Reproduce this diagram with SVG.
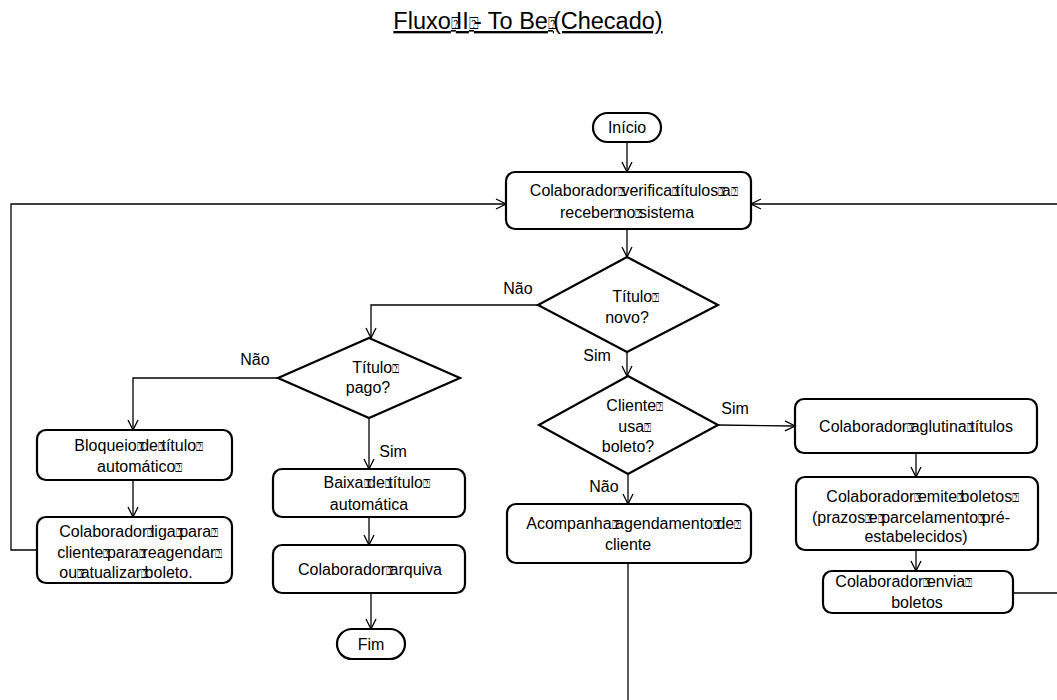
<svg xmlns="http://www.w3.org/2000/svg" width="1057" height="700" viewBox="0 0 1057 700">
  <defs>
    <marker id="arr" viewBox="0 0 12 12" refX="11" refY="6" markerWidth="12" markerHeight="12" markerUnits="userSpaceOnUse" orient="auto">
      <path d="M1,1 L11,6 L1,11" fill="none" stroke="#000" stroke-width="1.3"/>
    </marker>
  </defs>
  <style>
    .shape { fill: #fff; stroke: #000; stroke-width: 2.2; }
    .conn { fill: none; stroke: #000; stroke-width: 1.3; }
    .t { font-family: "Liberation Sans", Arial, sans-serif; font-size: 16px; fill: #000; text-anchor: middle; }
    .title { font-family: "Liberation Sans", Arial, sans-serif; font-size: 23.5px; fill: #000; text-anchor: middle; text-decoration: underline; }
    .q { font-family: "DejaVu Sans", sans-serif; font-size: 12px; letter-spacing: -3.5px; }
    .qt { font-family: "DejaVu Sans", sans-serif; font-size: 16px; letter-spacing: -5px; }
  </style>
  <rect width="1057" height="700" fill="#fff"/>

  <text class="title" x="528" y="29">Fluxo<tspan class="qt">⍰</tspan>II<tspan class="qt">⍰</tspan>- To Be<tspan class="qt">⍰</tspan>(Checado)</text>

  <g id="connectors">
    <path class="conn" d="M627,142 V172" marker-end="url(#arr)"/>
    <path class="conn" d="M627,229 V257" marker-end="url(#arr)"/>
    <path class="conn" d="M538,305 H371 V338" marker-end="url(#arr)"/>
    <path class="conn" d="M278,378 H133 V430" marker-end="url(#arr)"/>
    <path class="conn" d="M369,418 V469" marker-end="url(#arr)"/>
    <path class="conn" d="M133,480 V517" marker-end="url(#arr)"/>
    <path class="conn" d="M37,550 H11 V204 H506" marker-end="url(#arr)"/>
    <path class="conn" d="M369,517 V545" marker-end="url(#arr)"/>
    <path class="conn" d="M371,593 V629" marker-end="url(#arr)"/>
    <path class="conn" d="M627,352 V376" marker-end="url(#arr)"/>
    <path class="conn" d="M718,425 L795,426" marker-end="url(#arr)"/>
    <path class="conn" d="M628,474 V504" marker-end="url(#arr)"/>
    <path class="conn" d="M628,563 V700"/>
    <path class="conn" d="M916,453 V477" marker-end="url(#arr)"/>
    <path class="conn" d="M916,550 V571" marker-end="url(#arr)"/>
    <path class="conn" d="M1013,593 H1060 V204 H751" marker-end="url(#arr)"/>
    <text class="t" x="518" y="294">Não</text>
    <text class="t" x="255" y="365">Não</text>
    <text class="t" x="393" y="457">Sim</text>
    <text class="t" x="597" y="361">Sim</text>
    <text class="t" x="735" y="414">Sim</text>
    <text class="t" x="604" y="492">Não</text>
  </g>

  <g id="inicio">
    <rect class="shape" x="593" y="113" width="68" height="29" rx="14.5"/>
    <text class="t" x="627" y="133">Início</text>
  </g>

  <g id="verifica">
    <rect class="shape" x="506" y="172" width="245" height="57" rx="9"/>
    <text class="t" x="632" y="196">Colaborador<tspan class="q">⍰</tspan>verifica<tspan class="q">⍰</tspan>títulos<tspan class="q">⍰</tspan>a<tspan class="q">⍰</tspan></text>
    <text class="t" x="627" y="218">receber<tspan class="q">⍰</tspan>no<tspan class="q">⍰</tspan>sistema</text>
  </g>

  <g id="titulo-novo">
    <polygon class="shape" points="627,257 718,305 627,352 538,305"/>
    <text class="t" x="634" y="302">Título<tspan class="q">⍰</tspan></text>
    <text class="t" x="627" y="323">novo?</text>
  </g>

  <g id="titulo-pago">
    <polygon class="shape" points="369,338 460,378 369,418 278,378"/>
    <text class="t" x="374" y="373">Título<tspan class="q">⍰</tspan></text>
    <text class="t" x="368" y="393">pago?</text>
  </g>

  <g id="bloqueio">
    <rect class="shape" x="37" y="430" width="195" height="50" rx="9"/>
    <text class="t" x="137" y="451">Bloqueio<tspan class="q">⍰</tspan>de<tspan class="q">⍰</tspan>título<tspan class="q">⍰</tspan></text>
    <text class="t" x="138" y="472">automático<tspan class="q">⍰</tspan></text>
  </g>

  <g id="liga">
    <rect class="shape" x="37" y="517" width="195" height="66" rx="9"/>
    <text class="t" x="137" y="537">Colaborador<tspan class="q">⍰</tspan>liga<tspan class="q">⍰</tspan>para<tspan class="q">⍰</tspan></text>
    <text class="t" x="138" y="558">cliente<tspan class="q">⍰</tspan>para<tspan class="q">⍰</tspan>reagendar<tspan class="q">⍰</tspan></text>
    <text class="t" x="126" y="578">ou<tspan class="q">⍰</tspan>atualizar<tspan class="q">⍰</tspan>boleto.</text>
  </g>

  <g id="baixa">
    <rect class="shape" x="273" y="469" width="192" height="48" rx="9"/>
    <text class="t" x="375" y="488">Baixa<tspan class="q">⍰</tspan>de<tspan class="q">⍰</tspan>título<tspan class="q">⍰</tspan></text>
    <text class="t" x="369" y="510">automática</text>
  </g>

  <g id="arquiva">
    <rect class="shape" x="273" y="545" width="192" height="48" rx="9"/>
    <text class="t" x="370" y="575">Colaborador<tspan class="q">⍰</tspan>arquiva</text>
  </g>

  <g id="fim">
    <rect class="shape" x="337" y="629" width="68" height="30" rx="15"/>
    <text class="t" x="371" y="650">Fim</text>
  </g>

  <g id="usa-boleto">
    <polygon class="shape" points="628,376 718,425 628,474 539,425"/>
    <text class="t" x="633" y="411">Cliente<tspan class="q">⍰</tspan></text>
    <text class="t" x="633" y="432">usa<tspan class="q">⍰</tspan></text>
    <text class="t" x="628" y="452">boleto?</text>
  </g>

  <g id="acompanha">
    <rect class="shape" x="507" y="504" width="244" height="59" rx="9"/>
    <text class="t" x="632" y="529">Acompanha<tspan class="q">⍰</tspan>agendamento<tspan class="q">⍰</tspan>de<tspan class="q">⍰</tspan></text>
    <text class="t" x="628" y="550">cliente</text>
  </g>

  <g id="aglutina">
    <rect class="shape" x="795" y="399" width="242" height="54" rx="9"/>
    <text class="t" x="916" y="432">Colaborador<tspan class="q">⍰</tspan>aglutina<tspan class="q">⍰</tspan>títulos</text>
  </g>

  <g id="emite">
    <rect class="shape" x="796" y="477" width="242" height="73" rx="9"/>
    <text class="t" x="921" y="502">Colaborador<tspan class="q">⍰</tspan>emite<tspan class="q">⍰</tspan>boletos<tspan class="q">⍰</tspan></text>
    <text class="t" x="911" y="523">(prazos<tspan class="q">⍰</tspan>e<tspan class="q">⍰</tspan>parcelamento<tspan class="q">⍰</tspan>pré-</text>
    <text class="t" x="916" y="542">estabelecidos)</text>
  </g>

  <g id="envia">
    <rect class="shape" x="823" y="571" width="190" height="42" rx="9"/>
    <text class="t" x="902" y="587">Colaborador<tspan class="q">⍰</tspan>envia<tspan class="q">⍰</tspan></text>
    <text class="t" x="917" y="608">boletos</text>
  </g>
</svg>
